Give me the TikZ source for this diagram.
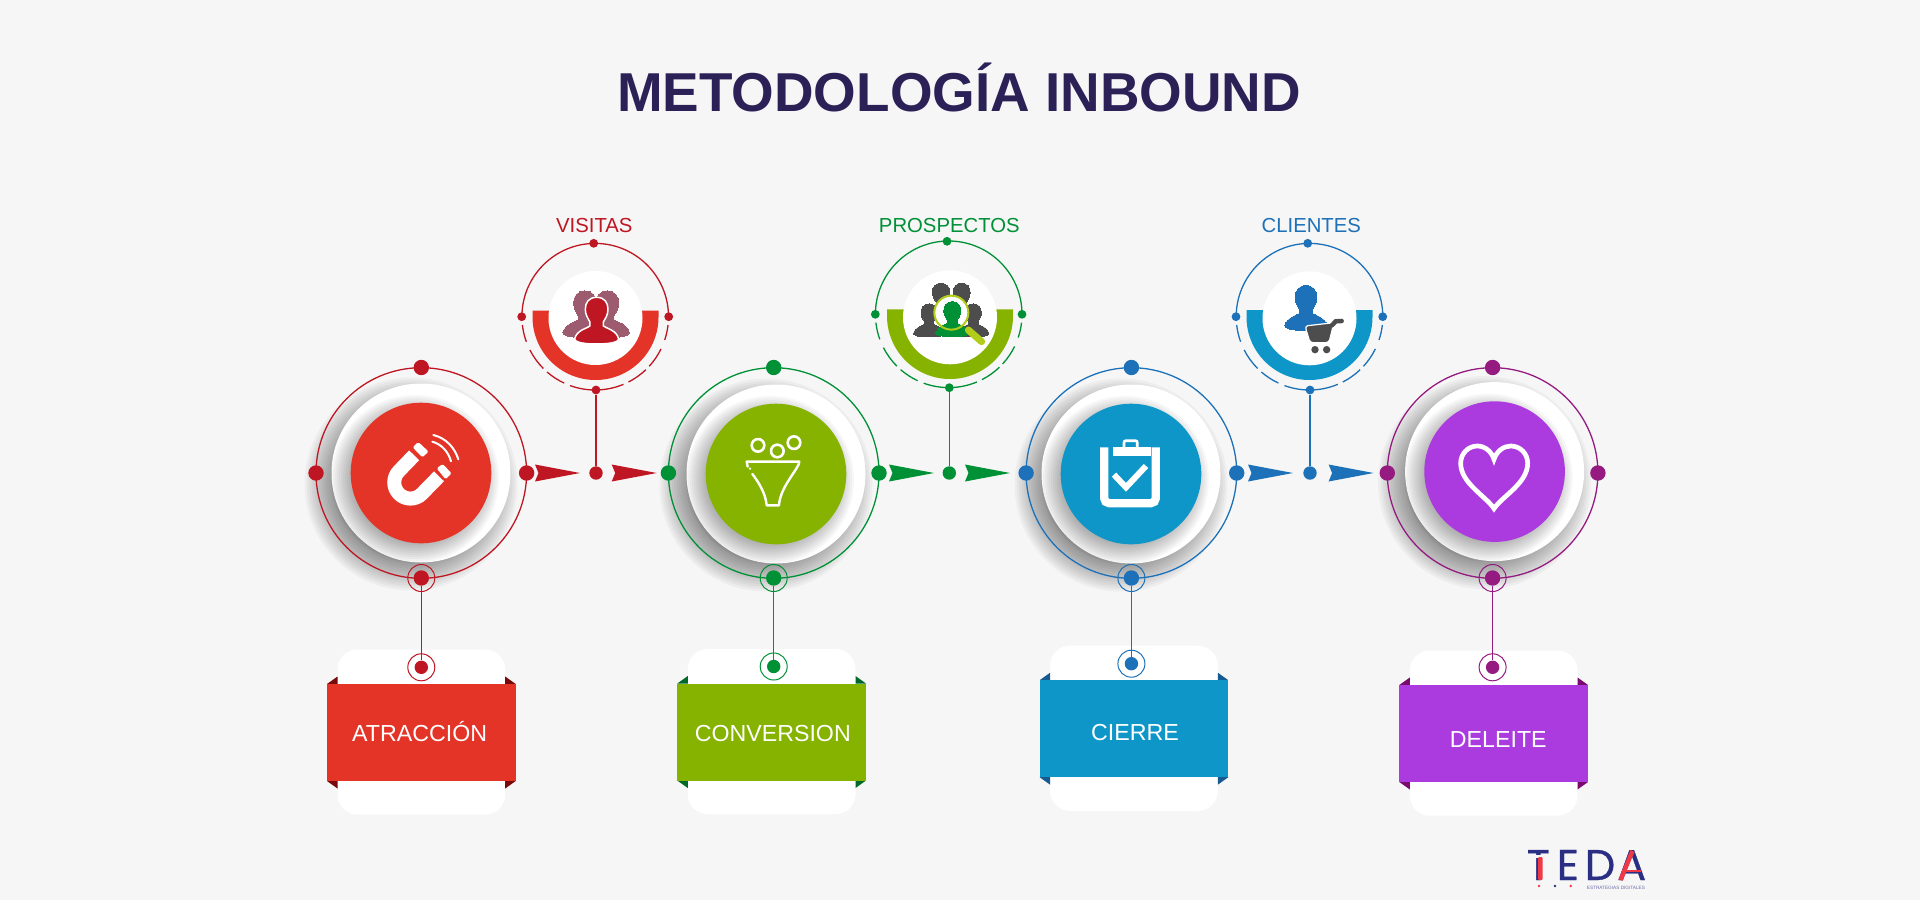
\documentclass[tikz,border=0pt]{standalone}
\usepackage{fontspec}
\setmainfont{Liberation Sans}
\newfontfamily\logofont[FakeBold=0.7]{Poppins}
\definecolor{bgc}{HTML}{F6F6F6}
\definecolor{titlec}{HTML}{2B2157}
\definecolor{redl}{HTML}{BE1622}
\definecolor{redd}{HTML}{E43427}
\definecolor{redf}{HTML}{7A0A0A}
\definecolor{grnl}{HTML}{009036}
\definecolor{grnd}{HTML}{86B200}
\definecolor{grnf}{HTML}{00692A}
\definecolor{blul}{HTML}{1D71B8}
\definecolor{blud}{HTML}{0E96C8}
\definecolor{bluf}{HTML}{155A90}
\definecolor{purl}{HTML}{951B81}
\definecolor{purd}{HTML}{AB3BDF}
\definecolor{purf}{HTML}{7A0A70}
\definecolor{greyi}{HTML}{4D4D4D}
\definecolor{mauve}{HTML}{9C5B6E}
\definecolor{lime}{HTML}{B2CC1A}
\definecolor{navy}{HTML}{2B2F84}
\definecolor{logor}{HTML}{EE3A46}
\tikzset{
  dotb/.style={circle,fill=#1,inner sep=0pt,minimum size=15.4pt},
  dotm/.style={circle,fill=#1,inner sep=0pt,minimum size=13.4pt},
  dots/.style={circle,fill=#1,inner sep=0pt,minimum size=8.8pt},
  halo/.style={circle,draw=#1,line width=1pt,fill=none,inner sep=0pt,minimum size=27pt},
  disc/.style={circle,fill=#1,inner sep=0pt,minimum size=140.6pt},
  plate/.style={circle,fill=white,inner sep=0pt,minimum size=179pt},
  lbl/.style={text=#1,font=\fontsize{20.3}{24}\selectfont,inner sep=0pt,anchor=base},
  cardlbl/.style={text=white,font=\fontsize{23.2}{26}\selectfont,inner sep=0pt,anchor=base},
  logoltr/.style={text=navy,font=\logofont\fontsize{43}{46}\selectfont,inner sep=0pt,anchor=base west},
  thin/.style={line width=1.3pt},
  ico/.style={white,line cap=round,line join=round}
}
% soft shadow: x y radius blur alpha
\newcommand\softshadow[5]{%
  \foreach \i in {0,...,14}{%
    \fill[black,opacity=#5] (#1,#2) circle ({(#3+#4*(1-\i/7))*1pt});
  }}
% person silhouette: x(top centre) y scale colour outlinecolor outlinewidth
\newcommand\person[6]{%
  \begin{scope}[shift={(#1,#2)},x=#3pt,y=-#3pt]
    \path[fill=#4,draw=#5,line width=#6pt,line join=round] (0,0) .. controls (-24,0) and (-34,16) .. (-34,36) .. controls (-34,52) and (-26,64) .. (-20,74) -- (-20,86) .. controls (-30,94) and (-60,98) .. (-66,125) .. controls (-66,132) and (-50,140) .. (0,140) .. controls (50,140) and (66,132) .. (66,125) .. controls (60,98) and (30,94) .. (20,86) -- (20,74) .. controls (26,64) and (34,52) .. (34,36) .. controls (34,16) and (24,0) .. (0,0) -- cycle;
  \end{scope}}
% big unit: name ringx discx discy line disc
\newcommand\bigunit[6]{%
  \softshadow{#3-10}{#4+11}{89.5}{17}{0.036}
  \draw[#5,thin] (#2,473) circle (105.3pt);
  \node[plate] (#1plate) at (#3,#4) {};
  \softshadow{#3-6}{#4+6}{70}{14}{0.032}
  \node[disc=#6] (#1disc) at (#3,#4) {};
  \node[dotb=#5] (#1top) at (#2,367.5) {};
  \node[dotb=#5] (#1left) at ({#2-105.3},473) {};
  \node[dotb=#5] (#1right) at ({#2+105.3},473) {};
  \node[dotb=#5] (#1bot) at (#2,578) {};
  \node[halo=#5] (#1halo) at (#2,578) {};}
% card: name bandleft bandtop text textx texty band fold
\newcommand\card[8]{%
  \fill[white,rounded corners=20pt] ({#2+10.5},{#3-34.5}) rectangle ({#2+178.2},{#3+130.7});
  \fill[#8] (#2,#3) -- ({#2+10.5},{#3-7.5}) -- ({#2+10.5},#3) -- cycle;
  \fill[#8] ({#2+188.7},#3) -- ({#2+178.2},{#3-7.5}) -- ({#2+178.2},#3) -- cycle;
  \fill[#8] (#2,{#3+97}) -- ({#2+10.5},{#3+104.5}) -- ({#2+10.5},{#3+97}) -- cycle;
  \fill[#8] ({#2+188.7},{#3+97}) -- ({#2+178.2},{#3+104.5}) -- ({#2+178.2},{#3+97}) -- cycle;
  \fill[#7] (#2,#3) rectangle ({#2+188.7},{#3+97});
  \node[cardlbl] (#1text) at (#5,#6) {#4};}
% small unit: name cx cy halfringcx halfringtop halfbottomcy platecy line disc
\newcommand\smallring[9]{%
  \fill[#9] ({#4-63},#5) -- ({#4-63},#6) arc[start angle=180,end angle=0,radius=63] -- ({#4+63},#5) -- cycle;
  \node[circle,fill=white,inner sep=0pt,minimum size=94pt] (#1plate) at (#4,#7) {};
  \draw[#8,thin] (#2,#3) ++(180:73.3) arc[start angle=180,end angle=360,radius=73.3];
  \foreach \a/\b in {6.5/20,27/45,49/65,70/112.7,117/133.7,137.4/154,161.5/173.5}{
    \draw[#8,thin] (#2,#3) ++({180-\a}:73.3) arc[start angle={180-\a},end angle={180-\b},radius=73.3];
  }}
% arrow: x colour
\newcommand\tarrow[2]{\fill[#2] (#1,464.5) -- ({#1+3.5},473) -- (#1,481.5) -- ({#1+45},473) -- cycle;}
\begin{document}
\begin{tikzpicture}[x=1pt,y=-1pt]
\useasboundingbox (0,0) rectangle (1920,900);
\fill[bgc] (0,0) rectangle (1920,900);
\node[text=titlec,font=\bfseries\fontsize{54.8}{60}\selectfont,inner sep=0pt,anchor=base] (title) at (959,111.7) {METODOLOGÍA INBOUND};

% cards
\card{c1}{327}{684}{ATRACCIÓN}{419.6}{741.7}{redd}{redf}
\card{c2}{677.3}{683.5}{CONVERSION}{772.8}{741.8}{grnd}{grnf}
\card{c3}{1039.6}{680.2}{CIERRE}{1135}{740.6}{blud}{bluf}
\card{c4}{1399.3}{685}{DELEITE}{1498.3}{747.7}{purd}{purf}

% big units
\bigunit{a}{421.3}{421}{473}{redl}{redd}
\bigunit{b}{773.7}{776}{474}{grnl}{grnd}
\bigunit{c}{1131.4}{1131}{474}{blul}{blud}
\bigunit{d}{1492.6}{1494.6}{471.6}{purl}{purd}

% card dots and connectors
\node[dotm=redl] (c1dot) at (421.3,667.3) {};
\node[halo=redl] (c1halo) at (421.3,667.3) {};
\node[dotm=grnl] (c2dot) at (773.7,666.5) {};
\node[halo=grnl] (c2halo) at (773.7,666.5) {};
\node[dotm=blul] (c3dot) at (1131.4,663.7) {};
\node[halo=blul] (c3halo) at (1131.4,663.7) {};
\node[dotm=purl] (c4dot) at (1492.6,667.3) {};
\node[halo=purl] (c4halo) at (1492.6,667.3) {};
\draw[redl,thin] (abot) -- (c1dot);
\draw[grnl,thin] (bbot) -- (c2dot);
\draw[blul,thin] (cbot) -- (c3dot);
\draw[purl,thin] (dbot) -- (c4dot);

% arrows
\tarrow{535}{redl}\tarrow{611.7}{redl}
\tarrow{889}{grnl}\tarrow{965}{grnl}
\tarrow{1248}{blul}\tarrow{1328.6}{blul}
\node[dotm=redl] (m1) at (596,473) {};
\node[dotm=grnl] (m2) at (949.3,473) {};
\node[dotm=blul] (m3) at (1310,473) {};

% small rings
\smallring{s1}{595.2}{316.7}{595.5}{310.7}{317}{318}{redl}{redd}
\smallring{s2}{948.7}{314.3}{950}{309.3}{316}{317.3}{grnl}{grnd}
\smallring{s3}{1309.5}{316.7}{1309.5}{310}{317}{318.3}{blul}{blud}
\node[dots=redl] (s1t) at (593.7,243.3) {};
\node[dots=redl] (s1l) at (521.7,316.7) {};
\node[dots=redl] (s1r) at (668.7,316.7) {};
\node[dots=redl] (s1b) at (596,390) {};
\node[dots=grnl] (s2t) at (947,241.3) {};
\node[dots=grnl] (s2l) at (875.3,314.3) {};
\node[dots=grnl] (s2r) at (1022,314.3) {};
\node[dots=grnl] (s2b) at (949.3,387.7) {};
\node[dots=blul] (s3t) at (1307.7,243.3) {};
\node[dots=blul] (s3l) at (1236,316.7) {};
\node[dots=blul] (s3r) at (1382.7,316.7) {};
\node[dots=blul] (s3b) at (1310,390) {};
\draw[redl,thin] (s1b) -- (m1);
\draw[grnl,thin] (s2b) -- (m2);
\draw[blul,thin] (s3b) -- (m3);
\node[lbl=redl] (l1) at (594.3,232.3) {VISITAS};
\node[lbl=grnl] (l2) at (949.3,232.3) {PROSPECTOS};
\node[lbl=blul] (l3) at (1311.3,232.3) {CLIENTES};

% icon: visitors
\begin{scope}[shift={(500,200)},x=0.3333pt,y=-0.3333pt]
  \person{255}{273}{0.3333}{mauve}{mauve}{0}
  \person{322}{273}{0.3333}{mauve}{mauve}{0}
  \person{290}{292}{0.3333}{redl}{white}{1.5}
\end{scope}
% icon: prospects
\begin{scope}[shift={(860,200)},x=0.3333pt,y=-0.3333pt]
  \person{243}{250}{0.25}{greyi}{greyi}{0}
  \person{305}{250}{0.25}{greyi}{greyi}{0}
  \person{207}{312}{0.235}{greyi}{greyi}{0}
  \person{340}{312}{0.235}{greyi}{greyi}{0}
  \fill[white] (274,338) circle (17pt);
  \person{277}{305}{0.25}{grnl}{grnl}{0}
  \draw[lime,line width=2pt] (274,338) circle (17pt);
  \draw[lime,line width=7pt,line cap=round] (325,390) -- (365,425);
\end{scope}
% icon: clients
\begin{scope}[shift={(1220,200)},x=0.3333pt,y=-0.3333pt]
  \person{258}{257}{0.32}{blul}{blul}{0}
  \path[fill=greyi,draw=white,line width=1.2pt,line join=round,rounded corners=3pt] (255,378) -- (342,368) -- (327,428) -- (270,428) -- cycle;
  \draw[greyi,line width=4.5pt,line cap=round] (336,376) -- (347,364) -- (365,363);
  \fill[greyi] (285,449) circle (3.7pt) (320,449) circle (3.7pt);
\end{scope}

% icon: magnet
\begin{scope}[shift={(290,340)},x=0.3333pt,y=-0.3333pt]
  \draw[white,line width=14pt] (372.5,346) -- (327,393) arc[start angle=225,end angle=45,radius=48.5] -- (447,409);
  \fill[white,rounded corners=1.5pt] (368,322) -- (385,306) -- (416,335) -- (397,352) -- cycle;
  \fill[white,rounded corners=1.5pt] (440,385) -- (458,372) -- (485,400) -- (467,418) -- cycle;
  \draw[ico,line width=2pt] (430,285) .. controls (470,295) and (495,325) .. (505,358);
  \draw[ico,line width=2pt] (427,305) .. controls (455,313) and (475,335) .. (483,364);
\end{scope}
% icon: funnel
\begin{scope}[shift={(700,400)},x=0.3333pt,y=-0.3333pt]
  \draw[ico,line width=2.6pt] (174,136) circle (6.3pt) (232,153) circle (6.3pt) (282,128) circle (6.3pt);
  \draw[ico,line width=2.4pt] (143,200) -- (140,185) -- (298,185) .. controls (298,205) and (240,260) .. (237,316) -- (200,316) .. controls (197,280) and (175,245) .. (157,222);
  \fill[white] (150,206) circle (1.2pt);
\end{scope}
% icon: clipboard
\begin{scope}[shift={(1050,400)},x=0.3333pt,y=-0.3333pt]
  \draw[white,line width=8.3pt,rounded corners=5pt] (162.5,142) -- (162.5,309.5) -- (317.5,309.5) -- (317.5,142);
  \fill[white] (188,142) rectangle (302,168);
  \draw[white,line width=2.7pt,rounded corners=2pt] (222,145) -- (222,122) -- (262,122) -- (262,145);
  \draw[white,line width=6pt] (192,224) -- (228,262) -- (288,198);
\end{scope}
% icon: heart
\begin{scope}[shift={(1400,380)},x=0.3333pt,y=-0.3333pt]
  \draw[white,line width=4.7pt,line join=miter] (282,386) .. controls (260,350) and (182,310) .. (182,250) .. controls (182,220) and (205,198) .. (232,198) .. controls (255,198) and (275,215) .. (282,238) .. controls (289,215) and (310,198) .. (332,198) .. controls (360,198) and (383,220) .. (383,250) .. controls (383,310) and (305,350) .. (282,386) -- cycle;
\end{scope}

% logo
\node[logoltr] (lt) at (1526.5,880) {T};
\node[logoltr] (le) at (1556.6,880) {E};
\node[logoltr] (ld) at (1584.6,880) {D};
\node[logoltr] (la) at (1617,880) {A};
\node[text=navy!70,font=\fontsize{4.7}{5}\selectfont,inner sep=0pt,anchor=base west] (ls) at (1586.7,889) {ESTRATEGIAS DIGITALES};
\fill[bgc] (1536,855) rectangle (1544,858);
\fill[logor,rounded corners=1pt] (1538,857) rectangle (1542.5,880);
\draw[logor,line width=4.4pt] (1632.5,851) -- (1620.5,880);
\draw[logor,line width=2.8pt] (1624,871) -- (1641,871);
\fill[logor] (1539,886) circle (1.4pt);
\fill[navy] (1555,886) circle (1.4pt);
\fill[logor] (1570.7,886) circle (1.4pt);
\end{tikzpicture}
\end{document}
